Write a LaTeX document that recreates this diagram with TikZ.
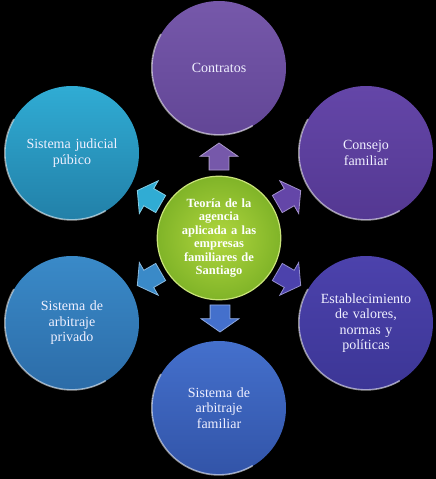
\documentclass[tikz,border=0pt]{standalone}
\usepackage{fontspec}
\setmainfont{Liberation Serif}
\usetikzlibrary{shapes.arrows}

% colours of the bubbles (top / bottom) and of the arrows
\definecolor{contratosA}{RGB}{118,88,170}
\definecolor{contratosB}{RGB}{98,70,150}
\definecolor{consejoA}{RGB}{100,70,168}
\definecolor{consejoB}{RGB}{84,56,146}
\definecolor{valoresA}{RGB}{76,66,172}
\definecolor{valoresB}{RGB}{60,54,150}
\definecolor{familiarA}{RGB}{68,112,204}
\definecolor{familiarB}{RGB}{50,84,168}
\definecolor{privadoA}{RGB}{58,138,200}
\definecolor{privadoB}{RGB}{44,108,168}
\definecolor{judicialA}{RGB}{48,172,212}
\definecolor{judicialB}{RGB}{34,128,168}
\definecolor{teoriaA}{RGB}{176,214,62}
\definecolor{teoriaB}{RGB}{128,180,40}

\tikzset{
  burbuja/.style={circle, minimum size=134pt, inner sep=0pt, text width=118pt,
    align=center, text=white!94!blue, font=\fontsize{14}{15.5}\selectfont},
  brillo/.style={white, line width=1.6pt, opacity=0.55, line cap=round},
  flecha/.style={single arrow, inner sep=9.5pt, minimum height=27pt,
    single arrow head extend=9pt, single arrow tip angle=110, line width=0.8pt}
}

\begin{document}
\begin{tikzpicture}[x=1pt,y=1pt,yscale=-1,xscale=1]
%background
\fill[black] (0,0) rectangle (436,479);
\useasboundingbox (0,0) rectangle (436,479);

%Centre
\node[circle, minimum size=106pt, inner sep=0pt, text width=96pt, align=center,
  inner color=teoriaA, outer color=teoriaB, draw=teoriaA!70!white, line width=1.2pt,
  text=white, font=\bfseries\fontsize{12.5}{13.4}\selectfont] (teoria) at (219,238)
  {Teoría de la\\agencia\\aplicada a las\\empresas\\familiares de\\Santiago};

%Outer bubbles
\node[burbuja, top color=contratosA, bottom color=contratosB] (contratos) at (219,68) {Contratos};
\node[burbuja, top color=consejoA, bottom color=consejoB] (consejo) at (366,153) {Consejo\\familiar};
\node[burbuja, top color=valoresA, bottom color=valoresB] (valores) at (366,323) {Establecimiento\\de valores,\\normas y\\políticas};
\node[burbuja, top color=familiarA, bottom color=familiarB] (arbFamiliar) at (219,408) {Sistema de\\arbitraje\\familiar};
\node[burbuja, top color=privadoA, bottom color=privadoB] (arbPrivado) at (72,323) {Sistema de\\arbitraje\\privado};
\node[burbuja, top color=judicialA, bottom color=judicialB] (judicial) at (72,153) {Sistema judicial\\púbico};

%Rim highlights
\draw[brillo] (contratos.150) arc[start angle=-150, end angle=-300, radius=67];
\draw[brillo] (consejo.150) arc[start angle=-150, end angle=-300, radius=67];
\draw[brillo] (valores.150) arc[start angle=-150, end angle=-300, radius=67];
\draw[brillo] (arbFamiliar.150) arc[start angle=-150, end angle=-300, radius=67];
\draw[brillo] (arbPrivado.150) arc[start angle=-150, end angle=-300, radius=67];
\draw[brillo] (judicial.150) arc[start angle=-150, end angle=-300, radius=67];

%Arrows
\node[flecha, rotate=90, fill=contratosA, draw=contratosA!60!white] (flContratos) at (219,160) {};
\node[flecha, rotate=30, fill=consejoA, draw=consejoA!60!white] (flConsejo) at (286,199) {};
\node[flecha, rotate=-30, fill=valoresA, draw=valoresA!60!white] (flValores) at (286,277) {};
\node[flecha, rotate=-90, fill=familiarA, draw=familiarA!60!white] (flFamiliar) at (220,315) {};
\node[flecha, rotate=210, fill=privadoA, draw=privadoA!60!white] (flPrivado) at (152,277) {};
\node[flecha, rotate=150, fill=judicialA, draw=judicialA!60!white] (flJudicial) at (152,199) {};

\end{tikzpicture}
\end{document}
